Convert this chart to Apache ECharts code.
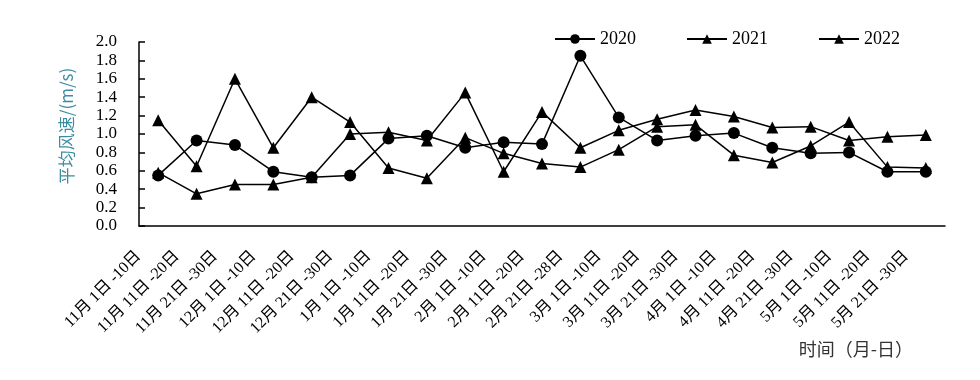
<!DOCTYPE html>
<html>
<head>
<meta charset="utf-8">
<script src="https://cdn.jsdelivr.net/npm/echarts@6/dist/echarts.min.js"></script>
<style>
html,body{margin:0;padding:0;background:#fff;}
#chart{width:980px;height:380px;}
</style>
</head>
<body>
<div id="chart"></div>
<script>
const categories = ['11月 1日 -10日','11月 11日 -20日','11月 21日 -30日','12月 1日 -10日','12月 11日 -20日','12月 21日 -30日','1月 1日 -10日','1月 11日 -20日','1月 21日 -30日','2月 1日 -10日','2月 11日 -20日','2月 21日 -28日','3月 1日 -10日','3月 11日 -20日','3月 21日 -30日','4月 1日 -10日','4月 11日 -20日','4月 21日 -30日','5月 1日 -10日','5月 11日 -20日','5月 21日 -30日'];
const values2020 = [0.55,0.93,0.88,0.59,0.53,0.55,0.95,0.98,0.85,0.91,0.89,1.85,1.18,0.93,0.98,1.01,0.85,0.79,0.80,0.59,0.59];
const values2021 = [1.15,0.65,1.60,0.85,1.40,1.13,0.63,0.52,0.96,0.79,0.68,0.64,0.83,1.08,1.10,0.77,0.69,0.87,1.13,0.64,0.63];
const values2022 = [0.58,0.35,0.45,0.45,0.53,1.00,1.02,0.93,1.45,0.59,1.24,0.85,1.04,1.16,1.26,1.19,1.07,1.08,0.93,0.97,0.99];
const yName = '平均风速/(m/s)';
const xName = '时间（月-日）';

const serif = "'Liberation Serif','Times New Roman','Noto Sans CJK SC',serif";
const sans = "'Noto Sans CJK SC','Noto Sans',sans-serif";

const chart = echarts.init(document.getElementById('chart'), null, {renderer:'canvas'});
function mkSeries(name, data, symbol){
  return {
    name, type:'line', data, symbol, symbolSize: 12,
    showAllSymbol: true,
    lineStyle:{color:'#000', width:1.5},
    itemStyle:{color:'#000'},
    emphasis:{disabled:true},
    animation:false
  };
}
chart.setOption({
  animation:false,
  title:{
    text: xName, right: 62, top: 335,
    textStyle:{fontFamily: sans, fontSize:18, fontWeight:'normal', color:'#333'}
  },
  legend:{
    left: 549, top: 25,
    itemWidth: 40, itemHeight: 12, itemGap: 50,
    textStyle:{fontFamily: serif, fontSize: 18, color:'#000'},
    data:['2020','2021','2022']
  },
  grid:{left:139, right:35, top:42, bottom:154},
  xAxis:{
    type:'category', data: categories, boundaryGap:true,
    axisLine:{lineStyle:{color:'#000', width:1.5}},
    axisTick:{inside:true, length:6, lineStyle:{color:'#000', width:1.5}},
    axisLabel:{
      interval:0, rotate:45, margin:8, padding:[0,28,0,0],
      fontFamily: serif, fontSize:16, color:'#000'
    },
    splitLine:{show:false}
  },
  yAxis:{
    type:'value', min:0, max:2, interval:0.2,
    name: yName, nameLocation:'middle', nameGap: 64, nameRotate: 90,
    nameTextStyle:{fontFamily: sans, fontSize:17, color:'#3d8da0', padding:[0,0,0,16]},
    axisLine:{show:true, lineStyle:{color:'#000', width:1.5}},
    axisTick:{show:true, inside:true, length:6, lineStyle:{color:'#000', width:1.5}},
    axisLabel:{margin:22, fontFamily: serif, fontSize:17, color:'#000', formatter: v => v.toFixed(1)},
    splitLine:{show:false}
  },
  series:[
    mkSeries('2020', values2020, 'circle'),
    mkSeries('2021', values2021, 'triangle'),
    mkSeries('2022', values2022, 'triangle')
  ]
});
</script>
</body>
</html>
